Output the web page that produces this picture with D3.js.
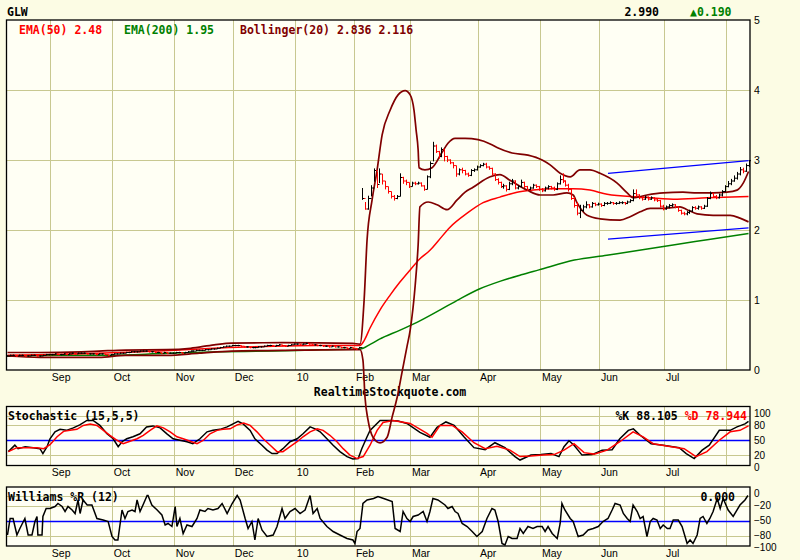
<!DOCTYPE html>
<html>
<head>
<meta charset="utf-8">
<script src="https://cdnjs.cloudflare.com/ajax/libs/d3/7.8.5/d3.min.js"></script>
<style>
body { margin: 0; background: #fcfce4; }
svg { display: block; }
.mono { font-family: "DejaVu Sans Mono", monospace; font-size: 11.5px; font-weight: bold; }
.ax text { font-family: "Liberation Sans", Arial, sans-serif; font-size: 10.5px; fill: #000; }
.ax.small text { font-size: 10px; }
</style>
</head>
<body>
<div id="chart"></div>
<script>
// ---- data ----
var dayCount = 252;
var monthDays = [15, 36, 57, 77, 98, 118, 137, 160, 181, 201, 223, 244];
var monthLabels = ["Sep", "Oct", "Nov", "Dec", "10", "Feb", "Mar", "Apr", "May", "Jun", "Jul", ""];
var priceTicks = [0, 1, 2, 3, 4, 5];
var stochTicks = [0, 20, 50, 80, 100];
var willTicks = [-100, -80, -50, -20, 0];

// daily bars, in cents
var closeC = [
  20,21,21,20,21,21,20,20,21,21,20,20,21,22,
  22,22,23,22,22,23,22,23,24,23,24,24,24,23,23,23,22,23,23,22,21,
  22,23,23,24,24,25,25,26,26,26,27,27,27,26,26,25,25,24,25,24,24,
  24,25,25,24,25,26,27,27,28,28,28,29,29,30,30,31,32,33,34,34,
  35,35,35,34,33,33,32,32,32,33,33,34,35,35,34,35,36,35,34,35,36,
  37,37,36,37,38,37,36,36,35,35,34,34,33,34,33,33,32,32,31,32,31,30,32,
  245,230,245,260,285,265,280,270,262,255,
  248,245,248,275,270,268,262,267,266,267,
  263,258,276,295,320,312,305,315,305,300,
  296,292,280,286,285,280,278,285,286,290,
  292,294,290,288,280,272,268,262,263,258,
  266,270,260,262,268,262,258,260,264,262,
  258,256,260,262,260,258,266,272,270,264,
  258,245,235,224,228,233,236,233,238,236,
  237,235,238,238,239,238,238,239,239,238,240,
  242,252,250,246,244,247,244,246,243,242,
  234,230,233,235,236,233,228,224,223,225,
  227,232,231,233,231,234,245,252,248,246,
  250,255,262,266,270,274,280,286,284,292,299
];
var highC = [
  21,22,22,21,22,22,21,21,22,22,21,21,22,23,
  23,23,24,23,23,24,23,24,25,24,25,25,25,24,24,24,23,24,24,23,22,
  23,24,24,25,25,26,26,27,27,27,28,28,28,27,27,26,26,25,26,25,25,
  25,26,26,25,26,27,28,28,29,29,29,30,30,31,31,32,33,34,35,35,
  36,36,36,35,34,34,33,33,33,34,34,35,36,36,35,36,37,36,35,36,37,
  38,38,37,38,39,38,37,37,36,36,35,35,34,35,34,34,33,33,32,33,32,31,33,
  260,240,249,264,288,283,288,280,270,262,
  255,250,250,281,276,272,268,269,269,269,
  268,264,278,298,326,322,313,318,316,306,
  301,297,292,288,289,286,282,287,288,292,
  294,296,296,291,289,281,274,269,266,264,
  269,273,271,264,272,269,263,262,266,265,
  263,260,262,264,263,262,268,278,281,271,
  266,260,247,240,236,236,241,237,240,239,
  239,238,240,240,241,240,240,241,241,240,242,
  244,258,258,251,248,249,248,248,247,245,
  243,236,235,237,238,237,234,229,226,227,
  229,234,234,235,234,236,247,255,253,250,
  252,257,264,270,273,278,283,290,289,295,300
];
var lowC = [
  19,20,20,19,20,20,19,19,20,20,19,19,20,21,
  21,21,22,21,21,22,21,22,23,22,23,23,23,22,22,22,21,22,22,21,20,
  21,22,22,23,23,24,24,25,25,25,26,26,26,25,25,24,24,23,24,23,23,
  23,24,24,23,24,25,26,26,27,27,27,28,28,29,29,30,31,32,33,33,
  34,34,34,33,32,32,31,31,31,32,32,33,34,34,33,34,35,34,33,34,35,
  36,36,35,36,37,36,35,35,34,34,33,33,32,33,32,32,31,31,30,31,30,29,31,
  243,229,229,248,269,260,267,265,258,252,
  245,242,244,248,266,264,260,262,264,265,
  262,256,258,274,298,310,302,304,298,297,
  294,288,276,278,281,278,276,277,283,285,
  289,291,288,286,278,270,265,260,259,255,
  257,264,258,258,261,260,256,257,259,260,
  256,254,255,258,258,256,257,265,267,262,
  255,243,232,221,217,226,231,231,232,234,
  235,233,234,236,237,236,236,237,237,236,237,
  239,241,247,244,242,243,242,243,241,240,
  232,228,229,231,233,231,226,222,221,221,
  223,226,229,229,229,230,233,244,246,244,
  245,248,254,261,264,269,272,278,281,283,290
];

// indicators as [day, value]
var ema50 = [[0,0.21],[15,0.22],[30,0.24],[45,0.26],[60,0.29],[75,0.32],[90,0.34],[105,0.35],[119.4,0.35],
  [120.8,0.42],[122.8,0.6],[126.2,0.86],[129.6,1.07],[133,1.26],[136.4,1.43],[139.7,1.59],[143.1,1.71],
  [145.8,1.84],[149.9,2.04],[155.7,2.24],[161.1,2.39],[166.8,2.47],[172.6,2.54],[178,2.57],[184.8,2.59],
  [191.6,2.59],[197.3,2.57],[203.1,2.51],[214.3,2.47],[225.5,2.44],[236.9,2.46],[251,2.48]];
var ema200 = [[0,0.2],[18,0.21],[35,0.21],[54,0.24],[72,0.26],[90,0.27],[106,0.29],[119.4,0.3],[123,0.37],
  [126,0.44],[133,0.57],[140,0.71],[147,0.87],[153,1.01],[160,1.16],[167,1.27],[174,1.36],[180,1.43],
  [192,1.57],[203,1.64],[214,1.71],[226,1.79],[237,1.86],[251,1.95]];
var bbUpper = [[0,0.25],[11,0.25],[25,0.26],[31,0.27],[40,0.285],[54,0.29],[62,0.31],[70,0.36],[76,0.385],
  [93,0.39],[117,0.38],[119.4,0.37],[120.8,1.0],[121.8,1.86],[123.5,2.43],[125.2,2.86],[126.9,3.36],
  [129.6,3.71],[132.3,3.93],[134.7,3.99],[136.4,3.93],[137.7,3.71],[138.4,3.43],[139.1,3.14],[139.4,2.89],
  [141.4,2.86],[143.8,2.89],[147.2,3.11],[149.2,3.24],[151.6,3.31],[155,3.31],[159.4,3.29],[163.5,3.23],
  [166.2,3.17],[170.9,3.1],[176.3,3.07],[181.1,3.0],[183.8,2.93],[187.2,2.81],[190.6,2.76],[193.9,2.86],
  [197.3,2.86],[200.7,2.81],[206.5,2.67],[209.9,2.53],[211.9,2.46],[216.6,2.5],[222.1,2.53],[228.8,2.54],
  [233.6,2.53],[239,2.53],[243.7,2.54],[247.1,2.57],[249.2,2.67],[251,2.836]];
var bbLower = [[0,0.2],[11,0.18],[31,0.18],[40,0.21],[54,0.21],[65,0.24],[76,0.27],[93,0.28],[117,0.29],
  [119.4,0.29],[120.4,0.14],[121.1,-0.39],[122.1,-0.71],[123.8,-0.96],[126.2,-1.04],[128.6,-0.96],
  [130.3,-0.67],[132,-0.39],[133.6,-0.04],[135.3,0.33],[136.4,0.57],[138.1,1.21],[139.1,1.79],[139.7,2.33],
  [142.5,2.4],[145.5,2.36],[148.9,2.29],[152.3,2.43],[155,2.54],[157.7,2.61],[163.5,2.76],[166.8,2.79],
  [170.2,2.71],[176,2.57],[180.4,2.5],[184.8,2.5],[189.5,2.53],[191.6,2.5],[192.9,2.39],[196.3,2.21],
  [200.7,2.16],[207.5,2.14],[210.9,2.19],[214.3,2.26],[217.7,2.31],[222.1,2.31],[227.8,2.33],[230.2,2.29],
  [233.6,2.23],[239,2.21],[244.8,2.21],[248.1,2.17],[251,2.116]];
var trendUpper = [[203.4,2.81],[251,2.99]];
var trendLower = [[203.4,1.87],[251,2.03]];

var stochK = [[0.3,27],[2.5,40],[3.6,33],[6,37],[8.7,35],[11,33],[12,23],[13.4,37],[14.4,53],[16.1,67],
  [17.8,72],[20,70],[22.3,75],[24.5,81],[26.9,90],[29,90],[31.3,80],[33.7,63],[35.8,53],[37.5,37],[38.8,47],
  [40.4,53],[42.5,57],[44.9,63],[47.1,77],[49.3,79],[51.7,75],[54,63],[56.1,53],[58.4,50],[60.8,47],
  [62.8,43],[65.2,53],[67.6,67],[69.6,70],[72,72],[74.4,77],[76.4,83],[78.1,88],[79.8,83],[82.2,70],
  [83.8,53],[86.2,40],[87.9,30],[89.6,23],[91.3,23],[93.3,33],[95.7,47],[98.1,53],[100.1,63],[102.5,77],
  [104.2,73],[105.9,67],[108.2,53],[110.3,40],[112.6,27],[115,17],[117,12],[118.8,13],[120,33],[121.8,57],
  [122.8,70],[126.2,90],[129.6,90],[132.3,89],[135.3,84],[139.7,66],[143.1,56],[145.5,76],[148.5,87],
  [151.3,80],[154.6,57],[158,35],[161.8,31],[165.1,45],[168.5,35],[171.9,17],[173.6,10],[177.3,20],
  [180.7,21],[184.1,23],[186.8,17],[188.5,37],[190.2,49],[191.9,40],[194.6,20],[198,21],[201.4,30],
  [204.8,31],[207.4,53],[210.3,70],[212,73],[214.3,60],[218,43],[222.1,40],[227.5,35],[229.9,23],
  [232.6,13],[235.3,30],[237.7,40],[241.1,70],[244.8,70],[247.1,77],[249.8,83],[251,88.1]];
var stochD = [[0.3,27],[3.2,35],[6.6,35],[10,35],[12.3,33],[14.4,41],[16.8,57],[19,68],[21.2,70],[23.5,72],
  [25.7,80],[28,83],[30.3,80],[32.5,70],[34.7,60],[37.1,50],[39.2,43],[41.5,48],[43.9,53],[46,60],[48.3,70],
  [50.6,79],[52.8,75],[55.1,67],[57.4,57],[59.5,53],[61.9,48],[64.2,43],[66.4,50],[68.6,63],[71,70],[73,72],
  [75.4,73],[77.8,81],[80,85],[82.2,80],[84.5,67],[86.6,53],[89,40],[91.3,27],[93.3,27],[95.7,37],[98.1,47],
  [100.1,57],[102.5,67],[104.9,73],[106.9,70],[109.2,60],[111.6,47],[113.7,33],[116,20],[118.4,13],
  [120.5,17],[122.8,40],[125.2,70],[127.2,86],[130.6,90],[136.4,84],[142.1,64],[143.8,56],[146.5,80],
  [150.6,80],[154,67],[158,45],[161.8,33],[165.8,38],[170.2,30],[173.6,17],[177.3,18],[181.4,20],
  [185.1,21],[188.5,30],[191.9,43],[195.3,25],[198.7,22],[203.1,30],[207.4,47],[211.9,67],[215.3,57],
  [218.7,43],[223.8,38],[229.2,33],[233.2,17],[236.9,27],[241.1,50],[244.8,67],[248.1,70],[251,78.9]];
var willR = [[0,-79],[0.9,-46],[1.9,-46],[3.2,-79],[4.2,-66],[5.9,-46],[7,-79],[8.3,-79],[9.3,-52],[10,-42],
  [10.3,-79],[11.7,-79],[12,-42],[13.1,-26],[14.4,-26],[16.1,-22],[17.1,-16],[18.5,-22],[19.5,-32],
  [20.5,-22],[21.9,-29],[22.9,-36],[23.9,-9],[24.6,-36],[25.6,-9],[27,-19],[28.6,-19],[30.3,-46],
  [32.4,-49],[34.1,-52],[35.4,-82],[36.4,-89],[37.4,-89],[38.8,-29],[39.8,-46],[40.8,-32],[42.2,-29],
  [43.2,-32],[43.9,-9],[44.9,-32],[45.9,-19],[47.3,0],[47.6,0],[48.9,-19],[50.7,-29],[52.3,-39],
  [53.4,-59],[54.4,-56],[55.7,-62],[56.8,-22],[57.4,-62],[58.4,-46],[59.5,-76],[60.8,-59],[62.5,-62],
  [64.2,-46],[65.2,-29],[66.9,-32],[67.9,-26],[69.6,-29],[71.3,-26],[72.7,-16],[74.4,-36],[76.1,-16],
  [77.8,0],[78.8,-9],[80.5,-46],[81.5,-66],[82.8,-52],[83.8,-89],[84.9,-46],[86.2,-69],[87.9,-82],
  [90,-79],[91.3,-62],[93,-26],[94,-46],[95.7,-32],[97.4,-26],[99.1,-36],[100.8,-29],[102.5,0],
  [103.5,-36],[104.9,-26],[105.9,-46],[108.2,-62],[110.3,-72],[112.6,-79],[115,-86],[117,-89],
  [117.7,-96],[118.4,-72],[119.4,-66],[120.4,-16],[121.8,-9],[124,-6],[125.5,-2],[127.9,-7],[130.3,-12],
  [131.3,-66],[133,-72],[134,-32],[135.3,-46],[136.4,-52],[137.4,-42],[139.1,-39],[140.8,-32],
  [142.1,-52],[143.1,-32],[144.1,-6],[145.8,-9],[148.2,-19],[149.2,-26],[150.6,-22],[151.6,-32],
  [152.6,-36],[154,-56],[155.7,-62],[157.4,-72],[159,-82],[160.8,-72],[162.4,-46],[164.1,-26],
  [165.1,-29],[166.2,-52],[167.5,-96],[168.5,-99],[169.6,-82],[170.9,-86],[172.6,-86],[173.6,-66],
  [174.7,-76],[176.3,-62],[178,-66],[179.4,-62],[181.1,-62],[182.1,-72],[183.1,-62],[184.5,-76],
  [186.2,-86],[187.2,-56],[187.8,-16],[188.8,-29],[190.6,-46],[191.6,-52],[193.3,-82],[195,-79],
  [196.7,-69],[198.4,-66],[200.1,-62],[201.7,-52],[203.4,-46],[204.8,-29],[205.8,-16],[207.5,-19],
  [208.6,-36],[209.9,-46],[210.9,-52],[211.9,-19],[213.3,-32],[214.3,-46],[215.3,-42],[216.6,-82],
  [217.7,-52],[218.7,-46],[220,-49],[221.1,-66],[222.1,-59],[223.5,-66],[224.4,-66],[225.5,-49],
  [227.2,-49],[228.5,-62],[229.5,-82],[230.2,-96],[231.2,-89],[232.2,-96],[233.6,-79],[234.6,-46],
  [235.6,-42],[236.9,-56],[237.9,-46],[239,-32],[240.4,-6],[241.4,-26],[242.4,-6],[244.1,-29],
  [245.8,-42],[248.1,-19],[249.8,-9],[250.8,0]];

// ---- layout ----
var width = 800, height = 560;
var left = 6, right = 750;
var main = { top: 20, bottom: 370 },
    stoch = { top: 406.5, bottom: 465.5 },
    will = { top: 487, bottom: 546 };

var panelBg = "#fffff4", gridColor = "#c8c890";

var svg = d3.select("#chart").append("svg")
    .attr("width", width)
    .attr("height", height);

var x = d3.scaleLinear().domain([0, dayCount]).range([left, right]);
var yP = d3.scaleLinear().domain([0, 5]).range([main.bottom, main.top]);
var yS = d3.scaleLinear().domain([0, 100]).range([465, 415.5]);
var yW = d3.scaleLinear().domain([-100, 0]).range([545.5, 495.5]);

function px(v) { return Math.round(v) + 0.5; }

// nudge crowded end labels of the small panels apart a little
function nudge(d, dom) {
    if (d === dom[1]) return -1.8;
    if (d === dom[0]) return 1.8;
    return 0;
}

function panel(p, yScale, hTicks, blueVal, vTicks, small) {
    var g = svg.append("g");
    g.append("rect")
        .attr("x", left).attr("y", p.top)
        .attr("width", right - left).attr("height", p.bottom - p.top)
        .attr("fill", panelBg);
    g.selectAll(".vg").data(monthDays).enter().append("line")
        .attr("x1", d => px(x(d))).attr("x2", d => px(x(d)))
        .attr("y1", p.top).attr("y2", p.bottom)
        .attr("stroke", gridColor);
    g.selectAll(".hg").data(hTicks).enter().append("line")
        .attr("x1", left).attr("x2", right)
        .attr("y1", d => px(yScale(d))).attr("y2", d => px(yScale(d)))
        .attr("stroke", gridColor);
    if (blueVal !== null) {
        g.append("line")
            .attr("x1", left).attr("x2", right)
            .attr("y1", px(yScale(blueVal))).attr("y2", px(yScale(blueVal)))
            .attr("stroke", "#0000ff").attr("stroke-width", 1.5);
    }
    // right value axis
    var ra = g.append("g").attr("class", small ? "ax small" : "ax")
        .attr("transform", "translate(" + right + ",0)")
        .call(d3.axisRight(yScale).tickValues(vTicks).tickFormat(d3.format("d"))
            .tickSize(0).tickPadding(4));
    ra.select(".domain").remove();
    if (small) {
        var dom = yScale.domain();
        ra.selectAll("text").attr("y", d => nudge(d, dom));
    }
    // month axis
    var mx = g.append("g").attr("class", "ax")
        .attr("transform", "translate(0," + p.bottom + ")")
        .call(d3.axisBottom(x).tickValues(monthDays)
            .tickFormat((d, i) => monthLabels[i]).tickSize(0).tickPadding(3.5));
    mx.select(".domain").remove();
    mx.selectAll("text").attr("text-anchor", "start").attr("x", 1);
    return g;
}

function frame(p) {
    svg.append("rect")
        .attr("x", left + 0.5).attr("y", p.top)
        .attr("width", right - left - 0.5).attr("height", p.bottom - p.top)
        .attr("fill", "none").attr("stroke", "#000").attr("stroke-width", 1.3);
}

panel(main, yP, [1, 2, 3, 4], null, priceTicks, false);
panel(stoch, yS, [20, 80, 100], 50, stochTicks, true);
panel(will, yW, [-20, -80, 0], -50, willTicks, true);
frame(main); frame(stoch); frame(will);

var lineS = d3.line().x(d => x(d[0] + 0.5)).y(d => yS(d[1]));
var lineW = d3.line().x(d => x(d[0] + 0.5)).y(d => yW(d[1]));
var lineP = d3.line().x(d => x(d[0] + 0.5)).y(d => yP(d[1])).curve(d3.curveMonotoneX);
var lineT = d3.line().x(d => x(d[0] + 0.5)).y(d => yP(d[1]));

// stochastic
svg.append("path").datum(stochK).attr("d", lineS)
    .attr("fill", "none").attr("stroke", "#000").attr("stroke-width", 1.5);
svg.append("path").datum(stochD).attr("d", lineS)
    .attr("fill", "none").attr("stroke", "#ff0000").attr("stroke-width", 1.5);
svg.append("text").attr("class", "mono")
    .attr("x", 8).attr("y", 416).attr("dy", "0.35em")
    .text("Stochastic (15,5,5)");
var kd = svg.append("text").attr("class", "mono")
    .attr("x", 747).attr("y", 416).attr("dy", "0.35em").attr("text-anchor", "end");
kd.append("tspan").attr("fill", "#000").text("%K 88.105 ");
kd.append("tspan").attr("fill", "#ff0000").text("%D 78.944");

// williams
svg.append("text").attr("class", "mono")
    .attr("x", 8).attr("y", 497).attr("dy", "0.35em")
    .text("Williams %R (12)");
svg.append("text").attr("class", "mono")
    .attr("x", 735).attr("y", 497).attr("dy", "0.35em").attr("text-anchor", "end")
    .text("0.000");
svg.append("path").datum(willR).attr("d", lineW)
    .attr("fill", "none").attr("stroke", "#000").attr("stroke-width", 1.5);

// titles
svg.append("text").attr("class", "mono")
    .attr("x", 7).attr("y", 12).attr("dy", "0.35em").text("GLW");
svg.append("text").attr("class", "mono")
    .attr("x", 659).attr("y", 12).attr("dy", "0.35em").attr("text-anchor", "end").text("2.990");
svg.append("text").attr("class", "mono")
    .attr("x", 690).attr("y", 12).attr("dy", "0.35em").attr("fill", "#008000").text("\u25B20.190");
svg.append("text").attr("class", "mono")
    .attr("x", 390).attr("y", 392).attr("dy", "0.35em").attr("text-anchor", "middle")
    .text("RealtimeStockquote.com");

var legendItems = [
    { x: 19, color: "#ff0000", text: "EMA(50) 2.48" },
    { x: 124, color: "#008000", text: "EMA(200) 1.95" },
    { x: 240, color: "#800000", text: "Bollinger(20) 2.836 2.116" }
];
svg.selectAll(".lg").data(legendItems).enter().append("text")
    .attr("class", "mono")
    .attr("x", d => d.x).attr("y", 30).attr("dy", "0.35em")
    .attr("fill", d => d.color)
    .text(d => d.text);

// main price series (not clipped: the band overshoots below the panel)
svg.append("path").datum(ema200).attr("d", lineP)
    .attr("fill", "none").attr("stroke", "#008000").attr("stroke-width", 1.5);
svg.append("path").datum(ema50).attr("d", lineP)
    .attr("fill", "none").attr("stroke", "#ff0000").attr("stroke-width", 1.5);
[bbUpper, bbLower].forEach(function (band) {
    svg.append("path").datum(band).attr("d", lineP)
        .attr("fill", "none").attr("stroke", "#800000").attr("stroke-width", 1.7);
});

var bars = closeC.map(function (c, i) {
    return {
        i: i,
        o: (i > 0 ? closeC[i - 1] : c) / 100,
        h: highC[i] / 100,
        l: lowC[i] / 100,
        c: c / 100,
        up: i === 0 || c >= closeC[i - 1]
    };
});
svg.append("g").selectAll("path").data(bars).enter().append("path")
    .attr("d", function (d) {
        var xc = px(x(d.i + 0.5));
        return "M" + xc + "," + yP(d.h) + "V" + yP(d.l)
            + "M" + (xc - 1.5) + "," + yP(d.o) + "H" + xc
            + "M" + xc + "," + yP(d.c) + "H" + (xc + 1.5);
    })
    .attr("fill", "none")
    .attr("stroke", d => d.up ? "#000" : "#ff0000")
    .attr("stroke-width", 1);

[trendUpper, trendLower].forEach(function (t) {
    svg.append("path").datum(t).attr("d", lineT)
        .attr("fill", "none").attr("stroke", "#0000ff").attr("stroke-width", 1.3);
});
</script>
</body>
</html>
